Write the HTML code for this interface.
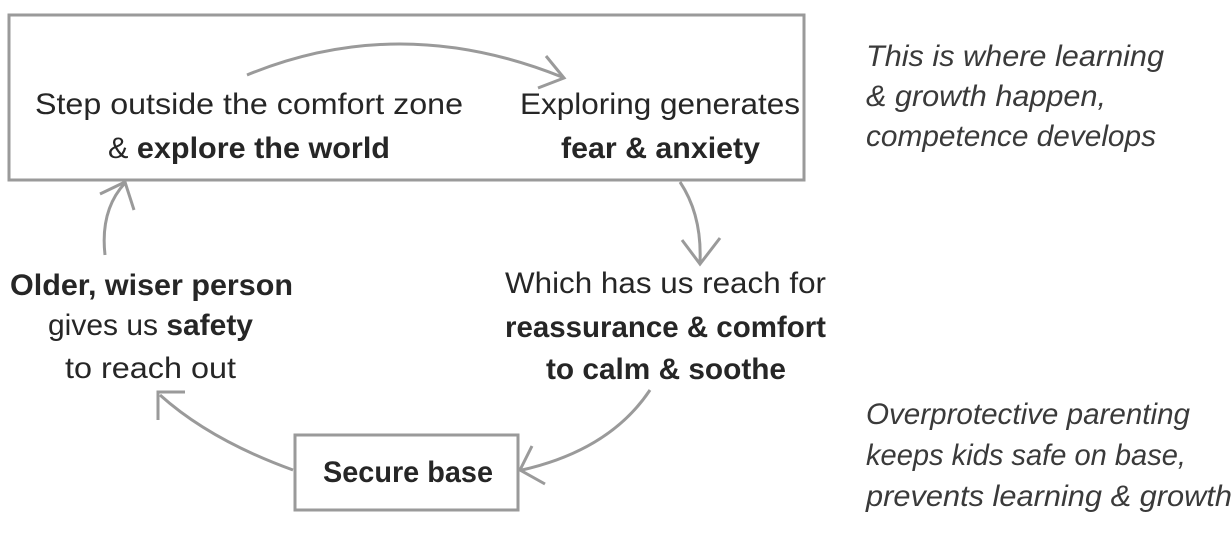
<!DOCTYPE html>
<html><head><meta charset="utf-8"><style>
html,body{margin:0;padding:0;background:#fff;}
svg{display:block;}
text{font-family:"Liberation Sans",sans-serif;font-size:30px;fill:#262626;}
.b{font-weight:bold;}
.i{font-style:italic;fill:#3a3a3a;}
</style></head><body>
<svg width="1232" height="538" viewBox="0 0 1232 538" xmlns="http://www.w3.org/2000/svg">
<g fill="none" stroke="#9a9a9a" stroke-width="3">
<rect x="9" y="15" width="795" height="165"/>
<rect x="295" y="435" width="223" height="75"/>
<path d="M247 75 Q400 12 562 77"/>
<path d="M546 56 L564 78 L538 88"/>
<path d="M680 182 Q702 215 700 262"/>
<path d="M682 240 L700 264 L720 238"/>
<path d="M650 390 Q610 450 522 470"/>
<path d="M532 446 L520 470 L545 484"/>
<path d="M293 470 Q210 440 160 395"/>
<path d="M158 420 L158 392 L185 392"/>
<path d="M105 255 Q100 210 125 183"/>
<path d="M100 194 L125 182 L134 210"/>
</g>
<text x="35" y="114" textLength="428" lengthAdjust="spacingAndGlyphs">Step outside the comfort zone</text>
<text x="108" y="158" textLength="282" lengthAdjust="spacingAndGlyphs">&amp; <tspan class="b">explore the world</tspan></text>
<text x="520" y="114" textLength="280" lengthAdjust="spacingAndGlyphs">Exploring generates</text>
<text class="b" x="561" y="158" textLength="199" lengthAdjust="spacingAndGlyphs">fear &amp; anxiety</text>
<text x="505" y="293" textLength="321" lengthAdjust="spacingAndGlyphs">Which has us reach for</text>
<text class="b" x="505" y="337" textLength="321" lengthAdjust="spacingAndGlyphs">reassurance &amp; comfort</text>
<text class="b" x="546" y="379" textLength="240" lengthAdjust="spacingAndGlyphs">to calm &amp; soothe</text>
<text class="b" x="10" y="295" textLength="283" lengthAdjust="spacingAndGlyphs">Older, wiser person</text>
<text x="48" y="335" textLength="205" lengthAdjust="spacingAndGlyphs">gives us <tspan class="b">safety</tspan></text>
<text x="65" y="378" textLength="171" lengthAdjust="spacingAndGlyphs">to reach out</text>
<text class="b" x="323" y="482" textLength="170" lengthAdjust="spacingAndGlyphs">Secure base</text>
<text class="i" x="866" y="66" textLength="298" lengthAdjust="spacingAndGlyphs">This is where learning</text>
<text class="i" x="866" y="106" textLength="240" lengthAdjust="spacingAndGlyphs">&amp; growth happen,</text>
<text class="i" x="866" y="146" textLength="290" lengthAdjust="spacingAndGlyphs">competence develops</text>
<text class="i" x="866" y="424" textLength="324" lengthAdjust="spacingAndGlyphs">Overprotective parenting</text>
<text class="i" x="866" y="465" textLength="320" lengthAdjust="spacingAndGlyphs">keeps kids safe on base,</text>
<text class="i" x="866" y="506" textLength="366" lengthAdjust="spacingAndGlyphs">prevents learning &amp; growth</text>
</svg>
</body></html>
